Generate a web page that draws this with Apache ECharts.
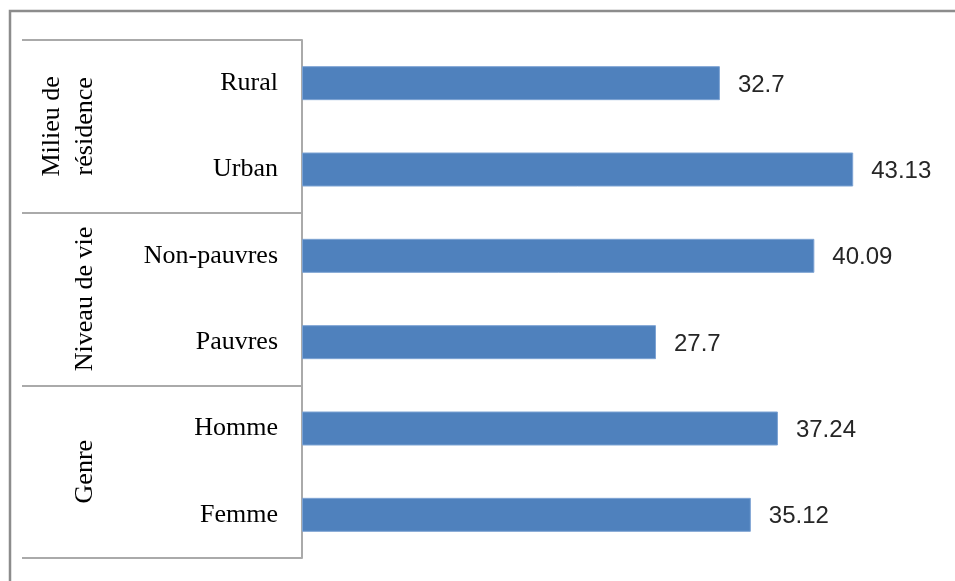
<!DOCTYPE html>
<html>
<head>
<meta charset="utf-8">
<script src="https://cdn.jsdelivr.net/npm/echarts@6/dist/echarts.min.js"></script>
<style>
html,body{margin:0;padding:0;background:#fff;}
#chart{width:955px;height:581px;}
</style>
</head>
<body>
<div id="chart"></div>
<script>
// Data
var categories = ['Rural', 'Urban', 'Non-pauvres', 'Pauvres', 'Homme', 'Femme'];
var values = [32.7, 43.13, 40.09, 27.7, 37.24, 35.12];
var groups = ['Milieu de\nrésidence', 'Niveau de vie', 'Genre'];

var chart = echarts.init(document.getElementById('chart'), null, {renderer: 'canvas'});

var option = {
  backgroundColor: '#ffffff',
  animation: false,
  graphic: [{
    type: 'rect',
    shape: {x: 10, y: 11, width: 1000, height: 700},
    style: {fill: 'none', stroke: '#8c8c8c', lineWidth: 2.5},
    silent: true,
    z: 0
  }],
  grid: {left: 302, top: 40, bottom: 23, right: 14, containLabel: false, outerBoundsMode: 'none'},
  xAxis: {
    type: 'value', min: 0, max: 50,
    show: false
  },
  yAxis: [{
    type: 'category',
    data: categories,
    inverse: true,
    position: 'left',
    axisLine: {show: false},
    axisTick: {show: false},
    splitLine: {show: false},
    axisLabel: {
      interval: 0,
      margin: 24,
      fontFamily: 'Liberation Serif',
      fontSize: 26,
      lineHeight: 30,
      padding: [3, 0, 0, 0],
      color: '#000000'
    }
  }, {
    type: 'category',
    data: groups,
    inverse: true,
    position: 'left',
    offset: 0,
    axisLine: {show: true, lineStyle: {color: '#aaaaaa', width: 2}},
    axisTick: {show: true, interval: 0, length: 280, lineStyle: {color: '#aaaaaa', width: 2}},
    splitLine: {show: false},
    axisLabel: {
      interval: 0,
      hideOverlap: false,
      rotate: 90,
      margin: 217,
      align: 'center',
      verticalAlign: 'middle',
      fontFamily: 'Liberation Serif',
      fontSize: 26,
      lineHeight: 33,
      color: '#000000',
      formatter: function (v) { return v.indexOf('\n') >= 0 ? v + '\n ' : v; }
    }
  }],
  series: [{
    type: 'bar',
    data: values,
    yAxisIndex: 0,
    barWidth: 34,
    itemStyle: {color: '#4F81BD', borderColor: '#7da3d3', borderWidth: 1},
    label: {
      show: true,
      position: 'right',
      distance: 18,
      offset: [0, 2],
      fontFamily: 'Liberation Sans',
      fontSize: 24,
      color: '#262626',
      formatter: function (p) { return String(p.value); }
    }
  }]
};
chart.setOption(option);
</script>
</body>
</html>
